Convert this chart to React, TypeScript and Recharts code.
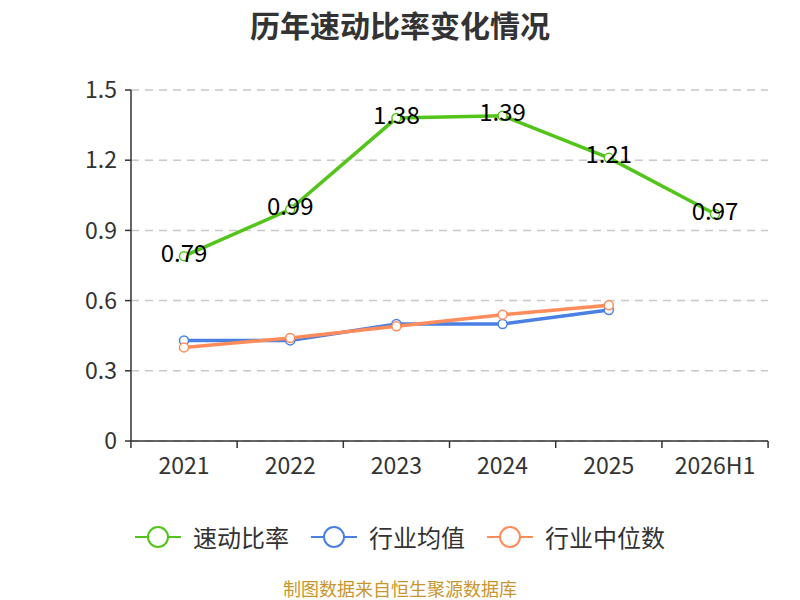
import React from 'react';
import { LineChart, Line, XAxis, YAxis, CartesianGrid, LabelList } from 'recharts';

const years = ['2021', '2022', '2023', '2024', '2025', '2026H1'];
const quickRatio = [0.79, 0.99, 1.38, 1.39, 1.21, 0.97];
const industryAvg = [0.43, 0.43, 0.5, 0.5, 0.56, null];
const industryMedian = [0.4, 0.44, 0.49, 0.54, 0.58, null];
const yTicks = [0, 0.3, 0.6, 0.9, 1.2, 1.5];

const FONT = '"Microsoft YaHei", "Noto Sans CJK SC", sans-serif';
const GREEN = '#52c41a';
const BLUE = '#4a80e3';
const ORANGE = '#ff8c5a';

const data = years.map((year, i) => ({
  year,
  quick: quickRatio[i],
  avg: industryAvg[i],
  median: industryMedian[i],
}));

const series = [
  { key: 'quick', name: '速动比率', color: GREEN },
  { key: 'avg', name: '行业均值', color: BLUE },
  { key: 'median', name: '行业中位数', color: ORANGE },
];

// x ticks sit on the category boundaries, labels in the middle
const XTick = (props: any) => {
  const { x, y, payload, index, visibleTicksCount, width } = props;
  const half = width / visibleTicksCount / 2;
  const axisY = y - 18;
  return (
    <g>
      <line x1={x - half} x2={x - half} y1={axisY} y2={axisY + 7} stroke="#333" strokeWidth={1.5} />
      {index === visibleTicksCount - 1 && (
        <line x1={x + half} x2={x + half} y1={axisY} y2={axisY + 7} stroke="#333" strokeWidth={1.5} />
      )}
      <text x={x} y={y - 1} dy="0.71em" textAnchor="middle" fill="#333" fontSize={23} fontFamily={FONT}>
        {payload.value}
      </text>
    </g>
  );
};

const ValueLabel = (props: any) => {
  const { x, y, value } = props;
  return (
    <text x={x} y={y - 5} textAnchor="middle" dominantBaseline="central" fill="#000" fontSize={24} fontFamily={FONT}>
      {value}
    </text>
  );
};

export default function App() {
  return (
    <div style={{ position: 'absolute', left: 0, top: 0, width: 800, height: 600, background: '#fff', fontFamily: FONT }}>
      <div style={{ position: 'absolute', top: 9, width: 800, textAlign: 'center', fontSize: 30, lineHeight: '30px', fontWeight: 'bold', color: '#333' }}>
        历年速动比率变化情况
      </div>
      <LineChart width={800} height={600} data={data} margin={{ top: 90, right: 32, bottom: 129, left: 0 }}>
        <CartesianGrid vertical={false} stroke="#c8c8c8" strokeDasharray="8 6" strokeWidth={1.5} />
        <XAxis
          dataKey="year"
          height={30}
          stroke="#333"
          strokeWidth={1.5}
          tickLine={false}
          tickSize={6}
          tickMargin={12}
          tick={<XTick />}
          interval={0}
          padding={{ left: 53, right: 53 }}
        />
        <YAxis
          width={131}
          domain={[0, 1.5]}
          ticks={yTicks}
          stroke="#333"
          strokeWidth={1.5}
          tickSize={6}
          tickMargin={8}
          tick={{ fill: '#333', fontSize: 23, fontFamily: FONT }}
        />
        {series.map(s => (
          <Line
            key={s.key}
            dataKey={s.key}
            name={s.name}
            type="linear"
            stroke={s.color}
            strokeWidth={3.5}
            dot={{ r: 4.5, fill: '#fff', stroke: s.color, strokeWidth: 1.5 }}
            isAnimationActive={false}
          >
            {s.key === 'quick' && <LabelList dataKey="quick" content={<ValueLabel />} />}
          </Line>
        ))}
      </LineChart>
      <div style={{ position: 'absolute', top: 522, left: 0, width: 800, display: 'flex', justifyContent: 'center', gap: 22, fontSize: 24, lineHeight: '30px', color: '#333' }}>
        {series.map(s => (
          <div key={s.key} style={{ display: 'flex', alignItems: 'center' }}>
            <svg width={46} height={30} style={{ marginRight: 12 }}>
              <line x1={0} x2={46} y1={15} y2={15} stroke={s.color} strokeWidth={2} />
              <circle cx={23} cy={15} r={10} fill="#fff" stroke={s.color} strokeWidth={2} />
            </svg>
            <span>{s.name}</span>
          </div>
        ))}
      </div>
      <div style={{ position: 'absolute', top: 578, width: 800, textAlign: 'center', fontSize: 18, lineHeight: '20px', color: '#c8962e' }}>
        制图数据来自恒生聚源数据库
      </div>
    </div>
  );
}
